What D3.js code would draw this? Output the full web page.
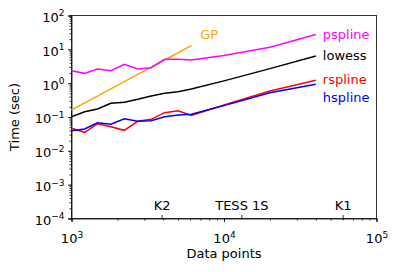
<!DOCTYPE html>
<html>
<head>
<meta charset="utf-8">
<script src="https://cdn.jsdelivr.net/npm/d3@7"></script>
<style>
  body { margin: 0; background: #fff; }
  text { font-family: "DejaVu Sans", sans-serif; }
</style>
</head>
<body>
<script>
// data points per run (log spaced)
var nPoints = [1000, 1220, 1480, 1810, 2220, 2720, 3330, 4080, 5000, 6100, 10000, 20000, 40000];
var gpPoints = [1000, 1220, 1480, 1810, 2220, 2720, 3330, 4080, 5000, 6100];

var gpTime      = [0.161, 0.261, 0.416, 0.678, 1.11, 1.82, 2.96, 4.84, 7.92, 12.8];
var psplineTime = [2.33, 1.95, 2.62, 2.33, 3.61, 2.62, 2.86, 5.07, 5.07, 4.84, 6.6, 11.6, 27.4];
var lowessTime  = [0.102, 0.143, 0.172, 0.254, 0.272, 0.333, 0.417, 0.501, 0.56, 0.672, 1.17, 2.69, 6.35];
var rsplineTime = [0.0463, 0.0352, 0.0634, 0.0517, 0.0404, 0.0746, 0.0855, 0.134, 0.153, 0.112, 0.226, 0.586, 1.22];
var hsplineTime = [0.0394, 0.0442, 0.0678, 0.0608, 0.089, 0.0746, 0.0777, 0.102, 0.1146, 0.120, 0.217, 0.522, 0.925];

var xMajor = [1e3, 1e4, 1e5];
var xExp = [3, 4, 5];
var yMajor = [1e-4, 1e-3, 1e-2, 1e-1, 1e0, 1e1, 1e2];
var yExp = ["\u22124", "\u22123", "\u22122", "\u22121", "0", "1", "2"];

var surveyNames = ["K2", "TESS 1S", "K1"];
var surveyPoints = [3900, 13000, 60000];

var main = function() {
  var margin = {top: 15.5, left: 71.5, right: 22.5, bottom: 53.5},
  W = 399, H = 272,
  width = W - margin.left - margin.right,
  height = H - margin.top - margin.bottom;

  var svg = d3.select("body").append("svg")
    .attr("width", W)
    .attr("height", H)
    .append("g")
    .attr("transform", "translate(" + margin.left + "," + margin.top + ")");

  var x = d3.scaleLog().domain([1e3, 1e5]).range([0, width]);
  var y = d3.scaleLog().domain([1e-4, 1e2]).range([height, 0]);

  // minor ticks
  svg.append("g")
    .attr("transform", "translate(0," + height + ")")
    .call(d3.axisBottom(x).tickValues(x.ticks()).tickSize(2).tickFormat(""))
    .call(function(g) { g.select(".domain").remove(); });
  svg.append("g")
    .call(d3.axisLeft(y).tickValues(y.ticks()).tickSize(2).tickFormat(""))
    .call(function(g) { g.select(".domain").remove(); });

  // major ticks with 10^n labels
  var xAxis = svg.append("g")
    .attr("transform", "translate(0," + height + ")")
    .call(d3.axisBottom(x).tickValues(xMajor).tickSize(3.5).tickPadding(5).tickFormat(""));
  xAxis.selectAll(".tick text").each(function(d, i) {
    var t = d3.select(this).attr("font-size", 13).attr("fill", "#000").attr("dy", "1.2em");
    t.append("tspan").text("10");
    t.append("tspan").text(xExp[i]).attr("font-size", 9).attr("dy", "-0.55em");
  });

  var yAxis = svg.append("g")
    .call(d3.axisLeft(y).tickValues(yMajor).tickSize(3.5).tickPadding(3.5).tickFormat(""));
  yAxis.selectAll(".tick text").each(function(d, i) {
    var t = d3.select(this).attr("font-size", 13).attr("fill", "#000").attr("dy", "0.45em");
    t.append("tspan").text("10");
    t.append("tspan").text(yExp[i]).attr("font-size", 9).attr("dy", "-0.6em");
  });

  // survey ticks inside the bottom axis
  var sAxis = svg.append("g")
    .attr("transform", "translate(0," + height + ")")
    .call(d3.axisTop(x).tickValues(surveyPoints).tickSize(3.5).tickPadding(5)
      .tickFormat(function(d, i) { return surveyNames[i]; }));
  sAxis.select(".domain").remove();
  sAxis.selectAll(".tick text").attr("font-size", 13).attr("fill", "#000");

  svg.selectAll(".tick line").attr("stroke", "#000").attr("stroke-width", 0.8);
  svg.selectAll(".domain").attr("stroke", "#000").attr("stroke-width", 0.8);

  // frame
  svg.append("rect")
    .attr("width", width).attr("height", height)
    .attr("fill", "none").attr("stroke", "#000").attr("stroke-width", 0.8);

  var series = [
    {name: "GP", xs: gpPoints, vals: gpTime, color: "orange", dx: 9, dy: -11},
    {name: "pspline", xs: nPoints, vals: psplineTime, color: "#ff00ff", dx: 7, dy: 0},
    {name: "lowess", xs: nPoints, vals: lowessTime, color: "#000000", dx: 7, dy: -1},
    {name: "rspline", xs: nPoints, vals: rsplineTime, color: "#ff0000", dx: 7, dy: -1},
    {name: "hspline", xs: nPoints, vals: hsplineTime, color: "#0000ff", dx: 7, dy: 13}
  ];

  var line = d3.line()
    .x(function(d) { return x(d[0]); })
    .y(function(d) { return y(d[1]); });

  series.forEach(function(s) {
    var pts = s.xs.map(function(v, i) { return [v, s.vals[i]]; });
    svg.append("path")
      .datum(pts)
      .attr("fill", "none")
      .attr("stroke", s.color)
      .attr("stroke-width", 1.5)
      .attr("d", line);
    var last = pts[pts.length - 1];
    svg.append("text")
      .attr("x", x(last[0]) + s.dx)
      .attr("y", y(last[1]) + s.dy)
      .attr("dominant-baseline", "central")
      .attr("font-size", 13)
      .attr("fill", s.color)
      .text(s.name);
  });

  svg.append("text")
    .attr("x", width / 2)
    .attr("y", height + 39)
    .attr("text-anchor", "middle")
    .attr("font-size", 13)
    .text("Data points");

  svg.append("text")
    .attr("transform", "translate(" + (-53) + "," + (height / 2) + ") rotate(-90)")
    .attr("text-anchor", "middle")
    .attr("font-size", 13)
    .text("Time (sec)");
}

main();
</script>
</body>
</html>
